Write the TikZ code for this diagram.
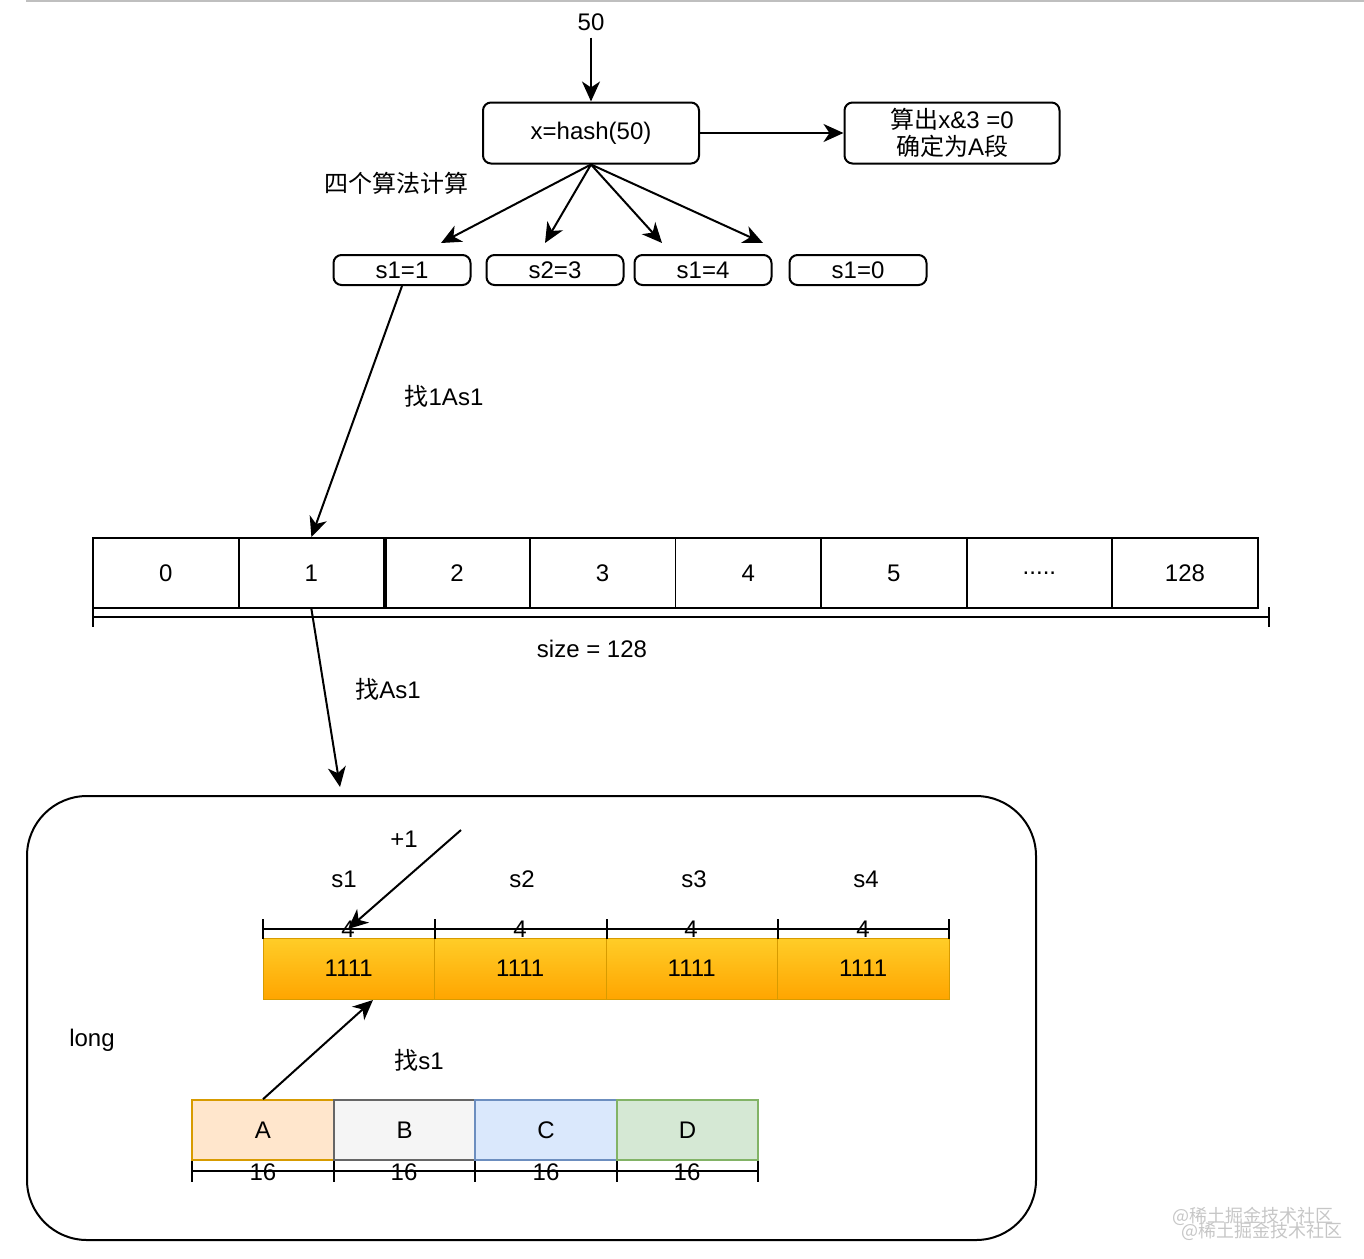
\documentclass[tikz,border=0pt]{standalone}
\usepackage{fontspec}
\setmainfont{Liberation Sans}
\newfontfamily\cjk{Noto Sans CJK SC}
\usetikzlibrary{arrows.meta}
\definecolor{barfill}{HTML}{FFCD28}
\definecolor{bargrad}{HTML}{FFA500}
\definecolor{barline}{HTML}{D79B00}
\definecolor{afill}{HTML}{FFE6CC}
\definecolor{bfill}{HTML}{F5F5F5}
\definecolor{bline}{HTML}{666666}
\definecolor{cfill}{HTML}{DAE8FC}
\definecolor{cline}{HTML}{6C8EBF}
\definecolor{dfill}{HTML}{D5E8D4}
\definecolor{dline}{HTML}{82B366}
\newcommand{\celldots}{.....}

\begin{document}
\begin{tikzpicture}
[x=0.5pt,y=-0.5pt,
  font=\fontsize{12}{13.5}\selectfont,
  roundbox/.style={shape=rectangle,rounded corners=4pt,draw,line width=1pt,inner sep=0pt,align=center},
  cellbox/.style={shape=rectangle,draw,line width=0.9pt,minimum width=72.8pt,minimum height=35pt,inner sep=0pt},
  barbox/.style={shape=rectangle,draw=barline,line width=0.5pt,top color=barfill,bottom color=bargrad,minimum width=85.75pt,minimum height=30.5pt,inner sep=0pt},
  segbox/.style={shape=rectangle,line width=0.8pt,minimum width=70.75pt,minimum height=30pt,inner sep=0pt},
  arrowdecorate/.style={-{Stealth[length=10pt,width=9pt,inset=3pt]},line width=1pt},
  dimdecorate/.style={-,line width=1pt}]
\useasboundingbox (0,0) rectangle (1364,1258);
\draw[gray!50,line width=1pt] (26,1) -- (1364,1);
%% hash and segment
\node (in) at (591,22) {50};
\node (hash) at (591,133) [roundbox,minimum width=108pt,minimum height=30.5pt] {x=hash(50)};
\node (seg) at (952,133) [roundbox,minimum width=107.5pt,minimum height=30.5pt]
  {{\cjk 算出}x\&3 =0\\{\cjk 确定为}A{\cjk 段}};
\node (algo) at (396,183) {\cjk 四个算法计算};
\draw[arrowdecorate] (in) -- (hash);
\draw[arrowdecorate] (hash) -- (seg);
%% four results
\foreach \nodename/\x/\txt in {s11/402/s1=1, s23/555/s2=3, s14/703/s1=4, s10/858/s1=0}
{
  \node (\nodename) at (\x,270) [roundbox,minimum width=68.5pt,minimum height=15pt] {\txt};
}
\foreach \nodename/\x in {t1/441, t2/545, t3/662, t4/763}
{
  \coordinate (\nodename) at (\x,243);
}
\path
\foreach \endnode in {t1, t2, t3, t4}
{
  (hash.south) edge[arrowdecorate] (\endnode)
};
%% array
\foreach \nodename/\x/\txt in {c0/165.8/0, c1/311.4/1, c2/457/2, c3/602.6/3,
  c4/748.2/4, c5/893.8/5, c6/1039.4/\celldots, c7/1185/128}
{
  \node (\nodename) at (\x,573) [cellbox] {\txt};
}
\draw[line width=1.6pt] (c1.north east) -- (c1.south east);
\draw[dimdecorate] (93,617) -- (1269,617);
\draw[dimdecorate] (93,607) -- (93,627) (1269,607) -- (1269,627);
\node (size) at (592,649) {size = 128};
\node (find1) at (444,396) {{\cjk 找}1As1};
\draw[arrowdecorate] (s11.south) -- (c1.north);
\coordinate (boxtop) at (340,787);
\node (find2) at (388,689) {{\cjk 找}As1};
\draw[arrowdecorate] (c1.south) -- (boxtop);
%% long
\node (frame) at (531.5,1018) [draw,line width=1pt,rounded corners=30pt,
  minimum width=504.5pt,minimum height=222pt] {};
\node (long) at (92,1040) {long};
\foreach \nodename/\x/\txt in {h1/344/s1, h2/522/s2, h3/694/s3, h4/866/s4}
{
  \node (\nodename) at (\x,879) {\txt};
}
\foreach \nodename/\x in {b1/348.75, b2/520.25, b3/691.75, b4/863.25}
{
  \node (\nodename) at (\x,968.5) [barbox] {1111};
}
\draw[dimdecorate] (263,929) -- (949,929);
\foreach \x in {263, 435, 607, 778, 949}
{
  \draw[dimdecorate] (\x,919) -- (\x,939);
}
\foreach \nodename/\x in {q1/348, q2/520, q3/691, q4/863}
{
  \node (\nodename) at (\x,929) {4};
}
\node (plus) at (404,839) {+1};
\coordinate (pstart) at (461,830);
\draw[arrowdecorate] (pstart) -- (q1.center);
%% segments A B C D
\foreach \nodename/\x/\fc/\dc/\txt in {pa/263/afill/barline/A, pb/404.5/bfill/bline/B,
  pc/546/cfill/cline/C, pd/687.5/dfill/dline/D}
{
  \node (\nodename) at (\x,1130) [segbox,fill=\fc,draw=\dc] {\txt};
}
\draw[dimdecorate] (192,1171) -- (758,1171);
\foreach \x in {192, 334, 475, 617, 758}
{
  \draw[dimdecorate] (\x,1161) -- (\x,1182);
}
\foreach \nodename/\x in {w1/263, w2/404, w3/546, w4/687}
{
  \node (\nodename) at (\x,1172) {16};
}
\node (find3) at (419,1060) {{\cjk 找}s1};
\coordinate (hit) at (373,1000);
\draw[arrowdecorate] (pa.north) -- (hit);
%% watermark
\node (mark1) at (1253,1216) [text=gray!45,font=\fontsize{9}{10}\cjk] {@稀土掘金技术社区};
\node (mark2) at (1262,1231) [text=gray!45,font=\fontsize{9}{10}\cjk] {@稀土掘金技术社区};
\end{tikzpicture}
\end{document}
